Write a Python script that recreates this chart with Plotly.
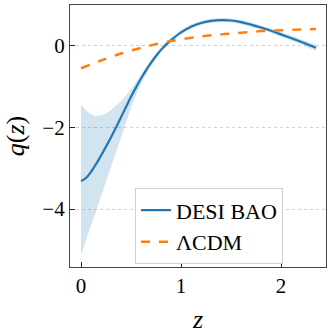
import plotly.graph_objects as go

# reconstructed q(z) from DESI BAO, with 1-sigma band
z = [0, 0.05, 0.1, 0.15, 0.2, 0.25, 0.3, 0.35, 0.4, 0.45, 0.5, 0.55, 0.6, 0.65, 0.7, 0.75,
     0.8, 0.85, 0.9, 1.0, 1.1, 1.2, 1.3, 1.4, 1.5, 1.6, 1.7, 1.8, 1.9, 2.0, 2.1, 2.2, 2.3, 2.35]
q_desi = [-3.31, -3.24, -3.09, -2.90, -2.69, -2.47, -2.24, -2.00, -1.75, -1.50, -1.25, -1.02,
          -0.80, -0.60, -0.42, -0.25, -0.10, 0.03, 0.14, 0.33, 0.47, 0.56, 0.61, 0.63, 0.62,
          0.58, 0.52, 0.45, 0.37, 0.28, 0.19, 0.10, 0.00, -0.05]
q_upper = [-1.45, -1.58, -1.68, -1.72, -1.70, -1.66, -1.58, -1.47, -1.35, -1.22, -1.06, -0.88,
           -0.70, -0.52, -0.35, -0.19, -0.05, 0.08, 0.19, 0.38, 0.52, 0.61, 0.66, 0.68, 0.67,
           0.63, 0.57, 0.50, 0.42, 0.34, 0.25, 0.16, 0.07, 0.03]
q_lower = [-5.13, -4.77, -4.41, -4.05, -3.69, -3.33, -2.97, -2.61, -2.25, -1.88, -1.52, -1.20,
           -0.93, -0.70, -0.50, -0.32, -0.16, -0.02, 0.09, 0.28, 0.42, 0.51, 0.56, 0.58, 0.57,
           0.53, 0.47, 0.40, 0.32, 0.22, 0.13, 0.04, -0.07, -0.13]

z_lcdm = [0, 0.2, 0.4, 0.6, 0.8, 1.0, 1.2, 1.4, 1.6, 1.8, 2.0, 2.2, 2.35]
q_lcdm = [-0.55, -0.36, -0.19, -0.05, 0.07, 0.16, 0.23, 0.28, 0.32, 0.36, 0.38, 0.40, 0.41]

font = "Liberation Serif"

fig = go.Figure()
fig.add_trace(go.Scatter(x=z, y=q_upper, mode="lines", line=dict(width=0, shape="spline"),
                         showlegend=False, hoverinfo="skip"))
fig.add_trace(go.Scatter(x=z, y=q_lower, mode="lines", line=dict(width=0, shape="spline"),
                         fill="tonexty", fillcolor="rgba(31,119,180,0.2)",
                         showlegend=False, hoverinfo="skip"))
fig.add_trace(go.Scatter(x=z, y=q_desi, mode="lines", name="DESI BAO",
                         line=dict(color="#1f77b4", width=2.2, shape="spline")))
fig.add_trace(go.Scatter(x=z_lcdm, y=q_lcdm, mode="lines", name="ΛCDM",
                         line=dict(color="#ff7f0e", width=2.5, dash="dash", shape="spline")))

axis_common = dict(showline=True, linecolor="#444", linewidth=1.2, mirror=True,
                   ticks="inside", ticklen=5, tickcolor="#222", zeroline=False,
                   tickfont=dict(family=font, size=21, color="black"))

fig.update_xaxes(range=[-0.11, 2.45], tickvals=[0, 1, 2], showgrid=False,
                 title=dict(text="<i>z</i>", font=dict(family=font, size=26, color="black"),
                            standoff=16),
                 **axis_common)
fig.update_yaxes(range=[-5.42, 1.0], tickvals=[-4, -2, 0], ticktext=["−4", "−2", "0"],
                 showgrid=True, gridcolor="#d0d0d0", griddash="dot", gridwidth=0.8,
                 title=dict(text="<i>q</i>(<i>z</i>)", font=dict(family=font, size=26, color="black"),
                            standoff=10),
                 **axis_common)

fig.update_layout(
    width=332, height=334,
    margin=dict(l=70, r=6, t=5, b=67, autoexpand=False),
    plot_bgcolor="white", paper_bgcolor="white",
    font=dict(family=font, color="black"),
    legend=dict(x=0.254, y=0.30, xanchor="left", yanchor="top",
                bgcolor="rgba(255,255,255,0.9)", bordercolor="#d0d0d0", borderwidth=1,
                font=dict(family=font, size=22, color="black"),
                traceorder="normal"),
)

fig.write_html("out.html", config={"displayModeBar": False},
               post_script="document.body.style.margin='0';")
